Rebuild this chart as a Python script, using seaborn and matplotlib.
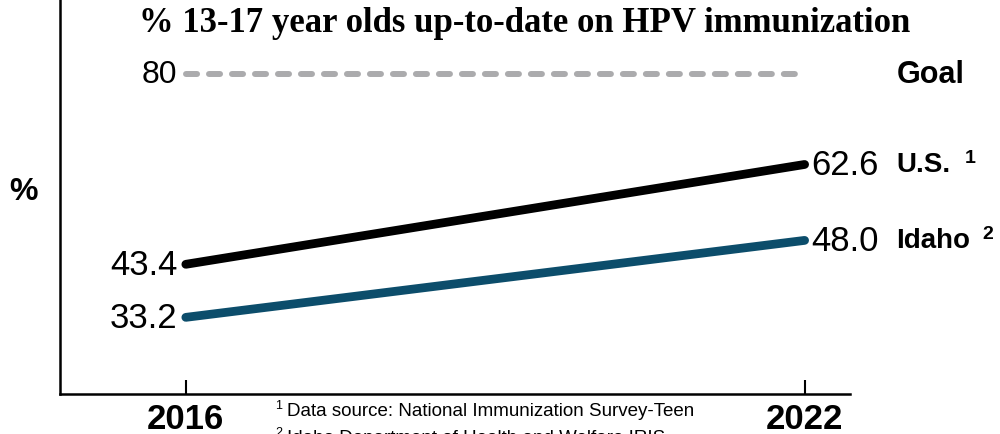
import pandas as pd
import seaborn as sns
import matplotlib.pyplot as plt

# ===============================
# Data
# ===============================
years = [2016, 2022]
us_rate = [43.4, 62.6]
idaho_rate = [33.2, 48.0]
goal_rate = [80, 80]
areas = ['U.S.', 'Idaho']
area_notes = ['1', '2']
footnotes = ['Data source: National Immunization Survey-Teen',
             'Idaho Department of Health and Welfare IRIS']
title = '% 13-17 year olds up-to-date on HPV immunization'

df = pd.DataFrame({
    'year': years * 2,
    'rate': us_rate + idaho_rate,
    'area': [areas[0]] * 2 + [areas[1]] * 2,
})

# ===============================
# Style
# ===============================
sns.set_theme(style='white')
plt.rcParams['font.family'] = ['Liberation Sans', 'DejaVu Sans']
plt.rcParams['text.color'] = 'black'
plt.rcParams['xtick.color'] = 'black'
plt.rcParams['xtick.labelcolor'] = 'black'

colors = {'U.S.': '#000000', 'Idaho': '#0c4d6b'}
narrow = ['Liberation Sans Narrow', 'Liberation Sans']

fig = plt.figure(figsize=(10, 4.35), dpi=100)
ax = fig.add_axes([0.06, 40 / 435, 0.79, 395 / 435])

# goal line
sns.lineplot(x=years, y=goal_rate, ax=ax, color='#ababad', lw=4.3,
             linestyle=(0, (1.85, 2.0)), dash_capstyle='round', legend=False)

# rate lines
sns.lineplot(data=df, x='year', y='rate', hue='area', palette=colors,
             lw=6.3, solid_capstyle='round', legend=False, ax=ax)

ax.set_xlim(2014.78, 2022.44)
ax.set_ylim(18.46, 94.42)

# ===============================
# Labels
# ===============================
ax.annotate(f'{goal_rate[0]}', (years[0], goal_rate[0]), xytext=(-6, 0),
            textcoords='offset points', ha='right', va='center', fontsize=23)
ax.annotate('Goal', (years[1], goal_rate[1]), xytext=(66, 0),
            textcoords='offset points', ha='left', va='center', fontsize=22,
            family=narrow, weight='bold')

for area, vals, note in zip(areas, [us_rate, idaho_rate], area_notes):
    ax.annotate(f'{vals[0]:.1f}', (years[0], vals[0]), xytext=(-6, 0),
                textcoords='offset points', ha='right', va='center', fontsize=25)
    ax.annotate(f'{vals[1]:.1f}', (years[1], vals[1]), xytext=(5, 0),
                textcoords='offset points', ha='left', va='center', fontsize=25)
    ax.annotate(area, (years[1], vals[1]), xytext=(66, 0),
                textcoords='offset points', ha='left', va='center',
                fontsize=20, weight='bold')
    note_x = 115 if area == 'U.S.' else 128
    ax.annotate(note, (years[1], vals[1]), xytext=(note_x, 5),
                textcoords='offset points', ha='left', va='center',
                fontsize=14, weight='bold')

# axes styling
ax.set_xticks(years)
ax.set_xticklabels([str(y) for y in years], fontsize=25, weight='bold')
ax.set_yticks([])
ax.set_xlabel('')
ax.set_ylabel('')
ax.tick_params(axis='x', direction='in', length=10, width=1.5,
               color='black', pad=6, bottom=True)
for side in ['top', 'right']:
    ax.spines[side].set_visible(False)
for side in ['left', 'bottom']:
    ax.spines[side].set_color('black')
    ax.spines[side].set_linewidth(1.8)

fig.text(24 / 1000, 1 - 192 / 435, '%', ha='center', va='center',
         fontsize=23, weight='bold')
fig.text(525 / 1000, 1 - 24 / 435, title, ha='center', va='center',
         fontsize=25, weight='bold',
         family=['Liberation Serif', 'DejaVu Serif'])

# footnotes (second line runs off the bottom edge as in the source)
for i, (note, text) in enumerate(zip(area_notes, footnotes)):
    y = 1 - (412 + 27 * i) / 435
    fig.text(275 / 1000, y + 6 / 435, note, ha='left', va='center', fontsize=9)
    fig.text(287 / 1000, y, text, ha='left', va='center', fontsize=13.5)

fig.savefig('out.png', dpi=100)
